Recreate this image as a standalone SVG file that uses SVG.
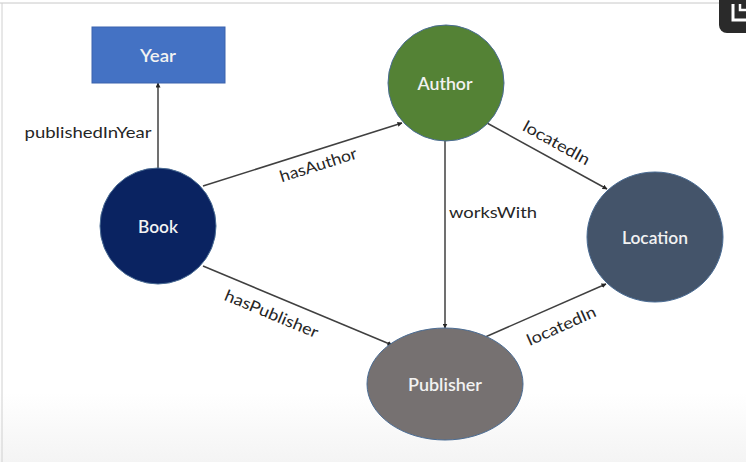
<svg xmlns="http://www.w3.org/2000/svg" width="746" height="462" viewBox="0 0 746 462">
<defs>
<linearGradient id="bg" x1="0" y1="0" x2="0" y2="1">
<stop offset="0" stop-color="#ffffff"/>
<stop offset="0.85" stop-color="#ffffff"/>
<stop offset="1" stop-color="#f4f4f4"/>
</linearGradient>
<marker id="arr" viewBox="0 0 10 10" refX="9" refY="5" markerWidth="5" markerHeight="5" orient="auto" markerUnits="userSpaceOnUse">
<path d="M0,0 L10,5 L0,10 z" fill="#262626"/>
</marker>
</defs>
<style>
.node-text{font-family:Lato,"Open Sans","Liberation Sans",sans-serif;font-size:17px;font-weight:600;fill:#f2f2f2;text-anchor:middle;dominant-baseline:central}
.edge-text{font-family:Lato,"Open Sans","Liberation Sans",sans-serif;font-size:16px;fill:#262626;text-anchor:middle;dominant-baseline:central}
.edge{stroke:#404040;stroke-width:1.5;fill:none;marker-end:url(#arr)}
.node{stroke:#4a6c94;stroke-width:1}
</style>
<rect x="0" y="0" width="746" height="462" fill="url(#bg)"/>
<line x1="0" y1="3" x2="720" y2="3" stroke="#c8c8c8" stroke-width="1"/>
<line x1="2" y1="3" x2="2" y2="462" stroke="#d0d0d0" stroke-width="1"/>
<g id="overlay-icon">
<rect x="719" y="-12" width="40" height="45" rx="8" fill="#2a2a2a"/>
<path d="M733,4 V20 H746" stroke="#ffffff" stroke-width="3" fill="none"/>
<path d="M740,4 V10 H746" stroke="#ffffff" stroke-width="2.5" fill="none"/>
</g>
<g id="connectors">
<line class="edge" x1="158" y1="170" x2="158" y2="83"/>
<line class="edge" x1="203" y1="186" x2="402" y2="123"/>
<line class="edge" x1="203" y1="266" x2="392" y2="345"/>
<line class="edge" x1="445" y1="141" x2="445" y2="328"/>
<line class="edge" x1="487" y1="123" x2="607" y2="189"/>
<line class="edge" x1="483" y1="338" x2="606" y2="284"/>
<text class="edge-text" x="88" y="131" textLength="127" lengthAdjust="spacingAndGlyphs">publishedInYear</text>
<text class="edge-text" transform="translate(318,164) rotate(-17.6)" textLength="80" lengthAdjust="spacingAndGlyphs">hasAuthor</text>
<text class="edge-text" transform="translate(272,313) rotate(22.7)" textLength="100" lengthAdjust="spacingAndGlyphs">hasPublisher</text>
<text class="edge-text" x="493" y="211" textLength="88" lengthAdjust="spacingAndGlyphs">worksWith</text>
<text class="edge-text" transform="translate(557,142) rotate(29)" textLength="74" lengthAdjust="spacingAndGlyphs">locatedIn</text>
<text class="edge-text" transform="translate(561,325) rotate(-23.9)" textLength="74" lengthAdjust="spacingAndGlyphs">locatedIn</text>
</g>
<g id="year">
<rect x="92" y="27" width="133" height="56" fill="#4472c4" stroke="#3a63ad" stroke-width="1"/>
<text class="node-text" x="158" y="55" textLength="36" lengthAdjust="spacingAndGlyphs">Year</text>
</g>
<g id="author">
<ellipse class="node" cx="446" cy="83" rx="58" ry="58" fill="#548235"/>
<text class="node-text" x="445" y="83" textLength="55" lengthAdjust="spacingAndGlyphs">Author</text>
</g>
<g id="book">
<circle class="node" cx="158" cy="226" r="58" fill="#0a2361"/>
<text class="node-text" x="158" y="226" textLength="40" lengthAdjust="spacingAndGlyphs">Book</text>
</g>
<g id="location">
<ellipse class="node" cx="655" cy="237" rx="68" ry="65" fill="#44546a"/>
<text class="node-text" x="655" y="237" textLength="66" lengthAdjust="spacingAndGlyphs">Location</text>
</g>
<g id="publisher">
<ellipse class="node" cx="445" cy="384" rx="78" ry="56" fill="#767171"/>
<text class="node-text" x="445" y="384" textLength="74" lengthAdjust="spacingAndGlyphs">Publisher</text>
</g>
</svg>
